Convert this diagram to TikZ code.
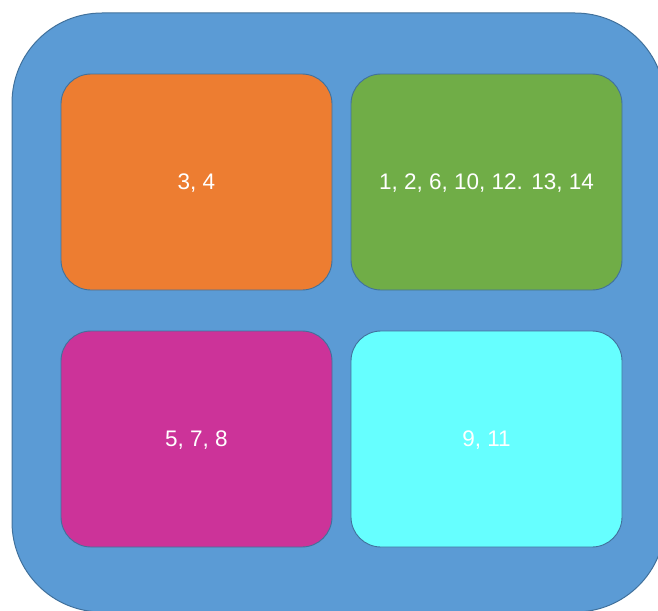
\documentclass[tikz,border=0pt]{standalone}
\usepackage{fontspec}
\setmainfont{Liberation Sans}
\usetikzlibrary{positioning}
\definecolor{trayblue}{HTML}{5B9BD5}
\definecolor{trayedge}{HTML}{41719C}
\definecolor{grouporange}{HTML}{ED7D31}
\definecolor{groupgreen}{HTML}{70AD47}
\definecolor{groupmagenta}{HTML}{CC3399}
\definecolor{groupcyan}{HTML}{66FFFF}
\begin{document}
\begin{tikzpicture}[
  x=1pt, y=-1pt,
  tray/.style={
    draw=trayedge,
    fill=trayblue,
    line width=1pt,
    rounded corners=90pt,
    minimum width=653pt,
    minimum height=599pt
  },
  groupbox/.style={
    draw=trayedge,
    line width=0.9pt,
    rounded corners=30pt,
    minimum width=271pt,
    minimum height=216pt,
    text=white,
    text depth=0pt,
    font=\fontsize{22.5}{27}\selectfont
  },
  orangebox/.style={groupbox, fill=grouporange},
  greenbox/.style={groupbox, fill=groupgreen},
  magentabox/.style={groupbox, fill=groupmagenta},
  cyanbox/.style={groupbox, fill=groupcyan}
]
  \useasboundingbox (0,0) rectangle (658,610);

  \node[tray] (outer) at (338.5,312.5) {};

  \node[orangebox] (groupa) at (196.5,182) {3, 4};
  \node[greenbox] (groupb) at (486.5,182) {1, 2, 6, 10, 12. 13, 14};
  \node[magentabox] (groupc) at (196.5,439) {5, 7, 8};
  \node[cyanbox] (groupd) at (486.5,439) {9, 11};
\end{tikzpicture}
\end{document}
